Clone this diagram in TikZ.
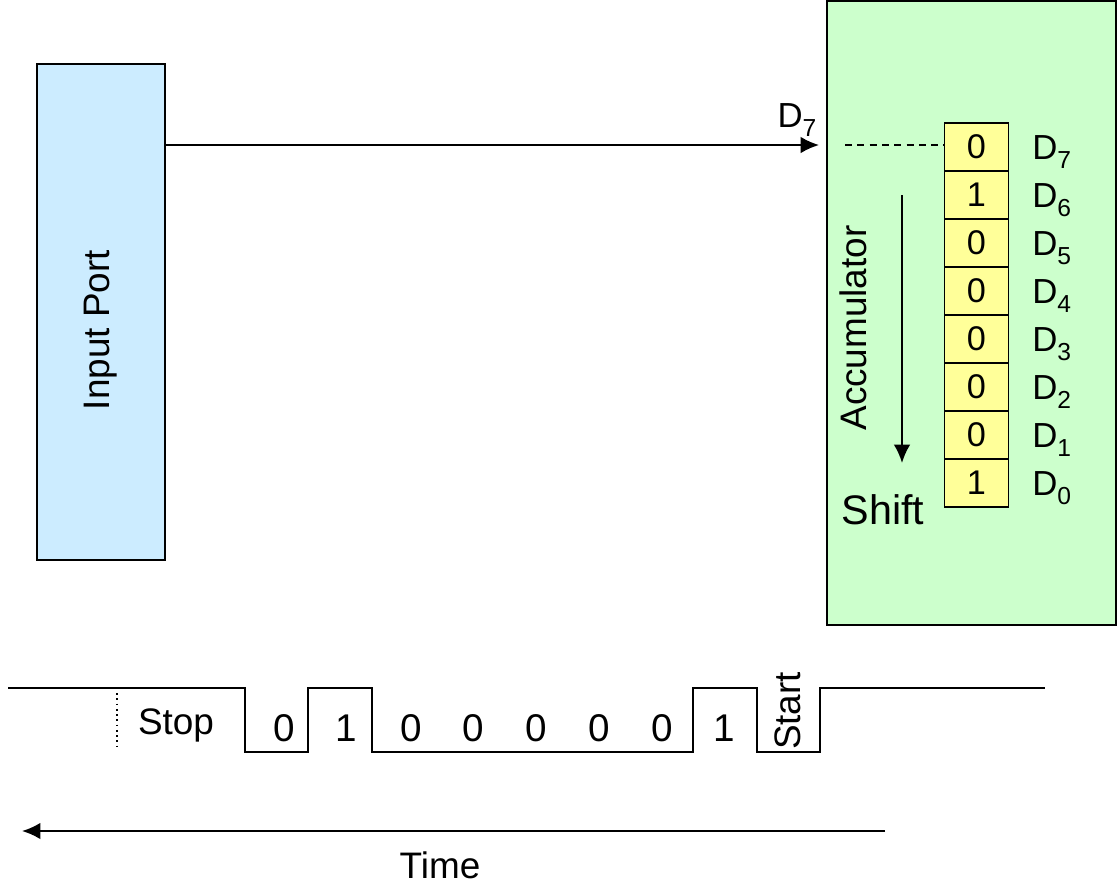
\documentclass[tikz,border=0pt]{standalone}
\usepackage{fontspec}
\setmainfont{Liberation Sans}
\usepackage{tikz}
\usetikzlibrary{arrows.meta,positioning,calc}
\definecolor{portblue} {HTML}{CCECFF}
\definecolor{accgreen} {HTML}{CCFFCC}
\definecolor{regyellow}{HTML}{FFFF99}
\definecolor{ink}      {HTML}{000000}
\newcommand{\regsub}[1]{\raisebox{-5.5pt}{\fontsize{14}{14}\selectfont #1}}
\tikzset{
  box/.style={draw=ink,line width=1.1pt,inner sep=0pt},
  cell/.style={draw=ink,line width=1.1pt,fill=regyellow,inner sep=0pt,
               minimum width=1.28cm,minimum height=0.96cm,
               font=\fontsize{19.5}{21}\selectfont},
  lbl/.style={inner sep=0pt,font=\fontsize{21}{24}\selectfont},
  dlbl/.style={inner sep=0pt,font=\fontsize{19.8}{22}\selectfont},
  arr/.style={draw=ink,line width=1.2pt,-{Latex[length=10.5pt,width=9.5pt]}},
  wave/.style={draw=ink,line width=1.4pt},
}

\begin{document}
\begin{tikzpicture}[x=0.02cm,y=-0.02cm]
  \useasboundingbox (0,0) rectangle (1118,890);
  % input port
  \node[box,fill=portblue,minimum width=2.56cm,minimum height=9.92cm] (port) at (101,312) {};
  \node[lbl,rotate=90] (portname) at (101,330) {Input Port};
  % accumulator
  \node[box,fill=accgreen,minimum width=5.78cm,minimum height=12.48cm] (acc) at (971.5,313) {};
  \node[lbl,rotate=90] (accname) at (853,328) {Accumulator};
  \node[lbl,font=\fontsize{23.5}{26}\selectfont] (shift) at (883,510) {Shift};
  \coordinate (shtop) at (902,195);
  \coordinate (shbot) at (902,463);
  \draw[arr] (shtop) -- (shbot);
  % register bits D7..D0
  \foreach \v [count=\i from 0] in {0,1,0,0,0,0,0,1}{
    \pgfmathtruncatemacro\bit{7-\i}
    \node[cell] (reg\bit) at (976.5,{147+48*\i}) {\raisebox{-3pt}{\v}};
    \node[dlbl,anchor=base west] (dname\bit) at (1032,{159+48*\i}) {D\regsub{\bit}};
  }
  % serial input line
  \coordinate (din) at (0,145);
  \draw[arr,shorten >=4pt] (port.east |- din) -- (acc.west |- din);
  \node[dlbl,anchor=base] (dtop) at (797,127) {D\regsub{7}};
  \coordinate (tap) at (845,145);
  \draw[draw=ink,line width=1.1pt,dash pattern=on 4pt off 3pt] (tap) -- (reg7.west |- tap);
  % waveform
  \draw[wave] (8,688) -- (245,688) -- (245,752) -- (308,752) -- (308,688) -- (372,688)
    -- (372,752) -- (693,752) -- (693,688) -- (757,688) -- (757,752) -- (820,752)
    -- (820,688) -- (1045,688);
  \draw[draw=ink,line width=1pt,dotted] (117,693) -- (117,750);
  \node[lbl] (stop) at (176,725) {Stop};
  \foreach \v/\x [count=\k] in {0/284,1/346,0/411,0/473,0/536,0/599,0/662,1/724}{
    \node[lbl,font=\fontsize{22}{24}\selectfont] (wbit\k) at (\x,728) {\v};
  }
  \node[lbl,rotate=90] (start) at (788,711) {Start};
  % time axis
  \coordinate (tfrom) at (885,831);
  \coordinate (tto) at (22,831);
  \draw[arr] (tfrom) -- (tto);
  \node[lbl] (time) at (440,865) {Time};
\end{tikzpicture}
\end{document}
